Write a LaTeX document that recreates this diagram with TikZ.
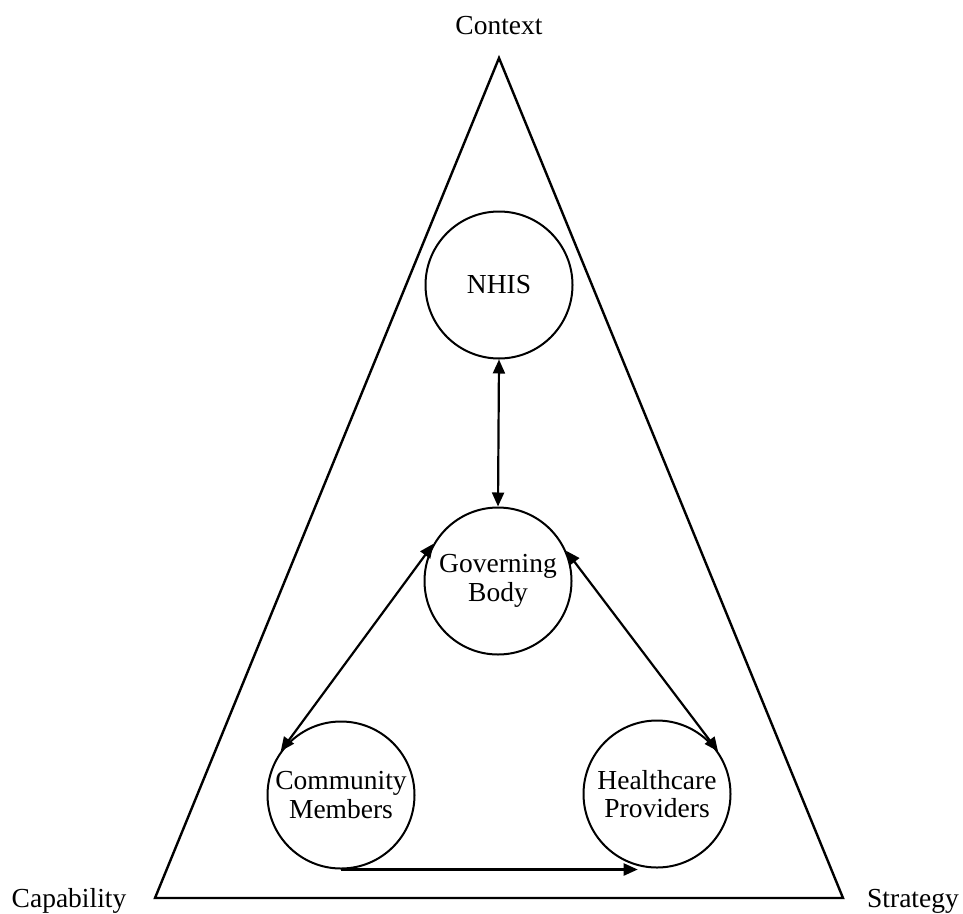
\documentclass[tikz,border=0pt]{standalone}
\usepackage{fontspec}
\setmainfont{Liberation Serif}
\usetikzlibrary{arrows.meta}
\begin{document}
\begin{tikzpicture}[x=1pt,y=-1pt,
  every node/.style={font=\fontsize{27.5}{28.5}\selectfont},
  circ/.style={circle,draw,line width=2pt,minimum size=147pt,inner sep=0pt,align=center},
  lbl/.style={anchor=base},
  link/.style={line width=2.2pt,{Triangle[length=14pt,width=12pt]}-{Triangle[length=14pt,width=12pt]}},
  onelink/.style={line width=2.2pt,-{Triangle[length=14pt,width=12pt]}}
  ]
\useasboundingbox (0,0) rectangle (963,913);
\coordinate (apex) at (499,58);
\coordinate (bl) at (155,898);
\coordinate (br) at (843,898);
\draw[line width=2.4pt,line join=miter] (apex) -- (bl) -- (br) -- cycle;

\node[lbl] (ctx) at (499,34) {Context};
\node[lbl] (cap) at (69,907) {Capability};
\node[lbl] (str) at (913,907) {Strategy};

\node[circ] (nhis) at (499,285) {NHIS};
\node[circ] (gov) at (498,581) {Governing\\Body};
\node[circ] (com) at (341,795) {Community\\Members};
\node[circ] (hp) at (657,794) {Healthcare\\Providers};

\draw[link] (nhis.south) -- (gov.north);
\draw[link] (gov.150) -- (com.144);
\draw[link] (gov.24) -- (hp.35);
\draw[onelink] (com.south) -- (com.south -| hp.-105);
\end{tikzpicture}
\end{document}
